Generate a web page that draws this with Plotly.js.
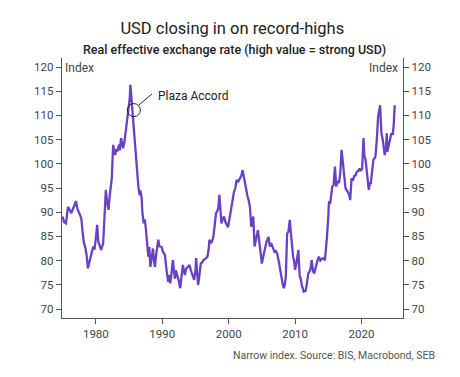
<!DOCTYPE html>
<html>
<head>
<meta charset="utf-8">
<script src="https://cdn.plot.ly/plotly-3.0.1.min.js"></script>
<style>html,body{margin:0;padding:0;background:#fff}#chart{width:460px;height:377px}</style>
</head>
<body>
<div id="chart"></div>
<script>
// Dates as decimal years, narrow-index REER values
const dates = [1975.0,1975.2,1975.5,1975.8,1976.0,1976.3,1976.5,1976.7,1977.0,1977.2,1977.4,1977.6,1977.8,1978.0,1978.2,1978.4,1978.6,1978.8,1979.0,1979.1,1979.4,1979.6,1979.8,
1980.0,1980.2,1980.35,1980.5,1980.8,1981.1,1981.3,1981.5,1981.7,1981.9,1982.1,1982.3,1982.4,1982.6,1982.8,1982.9,1983.1,1983.2,1983.5,1983.6,1983.8,1984.0,1984.1,1984.3,1984.4,1984.6,1984.8,1984.9,
1985.1,1985.2,1985.3,1985.4,1985.6,1985.75,1985.9,1986.0,1986.2,1986.4,1986.6,1986.7,1986.9,1987.0,1987.2,1987.35,1987.5,1987.7,1987.9,1988.05,1988.2,1988.4,1988.6,1988.75,1988.9,1989.1,1989.3,1989.4,1989.55,1989.7,1989.9,
1990.1,1990.4,1990.6,1990.9,1991.05,1991.2,1991.4,1991.6,1991.75,1991.9,1992.05,1992.2,1992.45,1992.7,1992.9,1993.1,1993.25,1993.4,1993.6,1993.8,1994.1,1994.3,1994.5,1994.8,1995.0,1995.1,1995.25,1995.4,1995.6,1995.8,
1996.0,1996.2,1996.5,1996.8,1997.0,1997.1,1997.3,1997.5,1997.7,1997.9,1998.1,1998.3,1998.45,1998.6,1998.75,1998.9,1999.1,1999.3,1999.5,1999.7,1999.9,
2000.1,2000.4,2000.6,2000.8,2001.0,2001.2,2001.4,2001.7,2001.9,2002.1,2002.3,2002.4,2002.6,2002.8,2003.0,2003.2,2003.4,2003.55,2003.7,2003.9,2004.1,2004.25,2004.4,2004.6,2004.8,2005.0,2005.15,2005.3,2005.5,2005.7,
2006.0,2006.2,2006.4,2006.7,2006.9,2007.1,2007.3,2007.6,2007.8,2008.0,2008.15,2008.3,2008.45,2008.6,2008.7,2008.8,2009.0,2009.2,2009.35,2009.5,2009.7,2009.85,
2010.0,2010.2,2010.35,2010.5,2010.6,2010.7,2010.85,2011.0,2011.3,2011.6,2011.8,2012.0,2012.2,2012.35,2012.5,2012.7,2012.9,2013.05,2013.2,2013.4,2013.6,2013.8,2014.0,2014.2,2014.5,2014.65,2014.8,
2015.0,2015.1,2015.3,2015.45,2015.6,2015.8,2016.0,2016.2,2016.4,2016.6,2016.8,2017.0,2017.15,2017.3,2017.45,2017.6,2017.8,2018.0,2018.15,2018.3,2018.5,2018.7,2018.9,2019.1,2019.3,2019.5,2019.7,2019.9,
2020.1,2020.3,2020.45,2020.6,2020.8,2020.9,2021.1,2021.25,2021.4,2021.6,2021.8,2022.0,2022.1,2022.3,2022.5,2022.8,2022.9,2023.0,2023.2,2023.35,2023.5,2023.7,2023.8,2023.9,2024.1,2024.3,2024.5,2024.7,2024.85,2025.0];

const reer = [89.1,88.0,87.7,91.1,90.6,89.8,90.5,91.1,92.3,90.8,90.1,89.5,88.8,86.0,83.6,82.8,81.2,78.4,79.8,80.5,81.8,82.9,82.3,
84.7,87.4,84.0,83.2,82.2,83.6,89.0,94.6,92.0,90.5,93.6,95.5,97.0,103.9,102.5,101.8,103.0,102.5,104.0,102.8,105.3,104.0,103.2,104.5,105.6,107.3,109.5,110.8,
113.5,116.3,114.5,113.5,110.8,107.5,104.6,102.9,99.0,95.3,93.5,94.5,92.9,90.0,87.7,88.5,87.0,83.5,80.8,82.8,78.7,80.5,82.5,80.0,78.7,81.5,83.5,84.3,83.0,82.9,82.8,
81.8,81.2,78.5,75.6,77.0,75.3,77.5,80.1,78.0,76.3,78.0,77.4,76.0,74.3,77.0,79.1,78.0,77.0,78.3,78.6,79.1,78.0,77.2,76.0,78.0,80.5,77.5,75.0,77.0,79.4,
79.6,80.1,80.4,80.8,82.5,84.3,83.6,84.0,84.9,87.5,89.8,90.3,91.0,93.6,90.0,87.7,88.5,89.1,88.0,87.4,86.9,
88.5,91.1,92.5,94.2,95.0,96.7,96.2,97.0,97.5,98.7,97.0,96.0,94.5,93.5,92.5,91.1,87.0,88.0,89.1,82.9,84.5,86.0,86.3,84.0,82.0,79.4,80.5,81.5,82.8,83.9,
84.9,82.9,83.6,82.2,81.8,82.0,81.5,79.4,77.5,75.6,75.0,74.3,75.0,76.7,81.0,85.6,86.0,88.4,86.0,83.2,80.8,80.0,
78.1,79.4,80.5,82.2,79.0,76.7,76.3,75.0,73.6,73.8,75.5,77.4,77.8,78.5,80.1,77.7,77.5,78.5,79.4,80.2,80.8,80.0,80.3,80.5,80.1,82.0,84.9,
89.0,92.2,92.0,94.0,95.3,95.6,99.4,95.3,96.5,96.0,98.0,102.9,100.5,98.0,96.0,94.9,94.5,93.9,93.6,92.5,97.0,96.5,97.5,97.6,98.4,98.5,99.0,98.5,
99.0,105.3,101.5,101.0,98.5,96.7,94.6,96.0,96.0,98.5,100.8,101.2,101.5,104.9,109.7,112.1,108.5,106.3,105.0,103.0,101.8,103.5,106.3,102.5,104.0,105.5,106.3,106.0,108.0,112.1];

const yTicks = [70,75,80,85,90,95,100,105,110,115,120];
const xTicks = [1980,1990,2000,2010,2020];
const plazaYear = 1985.72, plazaValue = 111.1;

const axisCol = '#555';
const tickFont = {family:'Roboto, sans-serif', size:11.5, color:'#444'};

const lineTrace = {x:dates, y:reer, type:'scatter', mode:'lines',
  line:{color:'#6a40c4', width:2.3}, hoverinfo:'skip', showlegend:false};
const rightTrace = Object.assign({}, lineTrace, {yaxis:'y2', line:{color:'rgba(0,0,0,0)', width:0}});

const yCommon = {range:[68.14,121.86], tickvals:yTicks, ticks:'outside', ticklen:5, tickcolor:axisCol,
  showline:true, linecolor:axisCol, linewidth:1.3, showgrid:false, zeroline:false, tickfont:tickFont, fixedrange:true};

const layout = {
  width:460, height:377,
  margin:{l:62, r:57, t:58, b:59},
  paper_bgcolor:'#fff', plot_bgcolor:'#fff',
  title:{text:'USD closing in on record-highs', x:0.505, xanchor:'center', y:0.925, yanchor:'middle',
    yref:'container', font:{family:'Roboto, sans-serif', size:16.5, color:'#222'}},
  xaxis:{range:[1974.9,2026.25], tickvals:xTicks, ticks:'outside', ticklen:5, tickcolor:axisCol,
    showline:true, linecolor:axisCol, linewidth:1.3, showgrid:false, zeroline:false, tickfont:tickFont},
  yaxis:Object.assign({}, yCommon, {side:'left'}),
  yaxis2:Object.assign({}, yCommon, {side:'right', overlaying:'y'}),
  shapes:[
    {type:'circle', xref:'x', yref:'y', xsizemode:'pixel', ysizemode:'pixel', xanchor:plazaYear, yanchor:plazaValue,
     x0:-6.5, x1:6.5, y0:-6.5, y1:6.5, line:{color:'#222', width:1}},
    {type:'line', xref:'x', yref:'y', xsizemode:'pixel', ysizemode:'pixel', xanchor:plazaYear, yanchor:plazaValue,
     x0:5, x1:18, y0:5, y1:16, line:{color:'#222', width:1}}
  ],
  annotations:[
    {text:'Real effective exchange rate (high value = strong USD)', xref:'paper', yref:'paper', x:0.505, y:1.0, yshift:9,
     xanchor:'center', yanchor:'middle', showarrow:false, font:{family:'Roboto, sans-serif', size:12.5, color:'#222', weight:500}},
    {text:'Index', xref:'paper', yref:'paper', x:0, y:1, xshift:1, yshift:-10, xanchor:'left', yanchor:'middle', showarrow:false,
     font:{family:'Roboto, sans-serif', size:12, color:'#444'}},
    {text:'Index', xref:'paper', yref:'paper', x:1, y:1, xshift:-3, yshift:-10, xanchor:'right', yanchor:'middle', showarrow:false,
     font:{family:'Roboto, sans-serif', size:12, color:'#444'}},
    {text:'Plaza Accord', xref:'x', yref:'y', x:plazaYear, y:plazaValue, xshift:22, yshift:14, xanchor:'left', yanchor:'middle',
     showarrow:false, font:{family:'Roboto, sans-serif', size:12, color:'#222'}},
    {text:'Narrow index. Source: BIS, Macrobond, SEB', xref:'paper', yref:'paper', x:1, y:0, xshift:34, yshift:-37,
     xanchor:'right', yanchor:'middle', showarrow:false, font:{family:'Roboto, sans-serif', size:10.5, color:'#555'}}
  ]
};

Plotly.newPlot('chart', [lineTrace, rightTrace], layout, {staticPlot:true, displayModeBar:false});
</script>
</body>
</html>
